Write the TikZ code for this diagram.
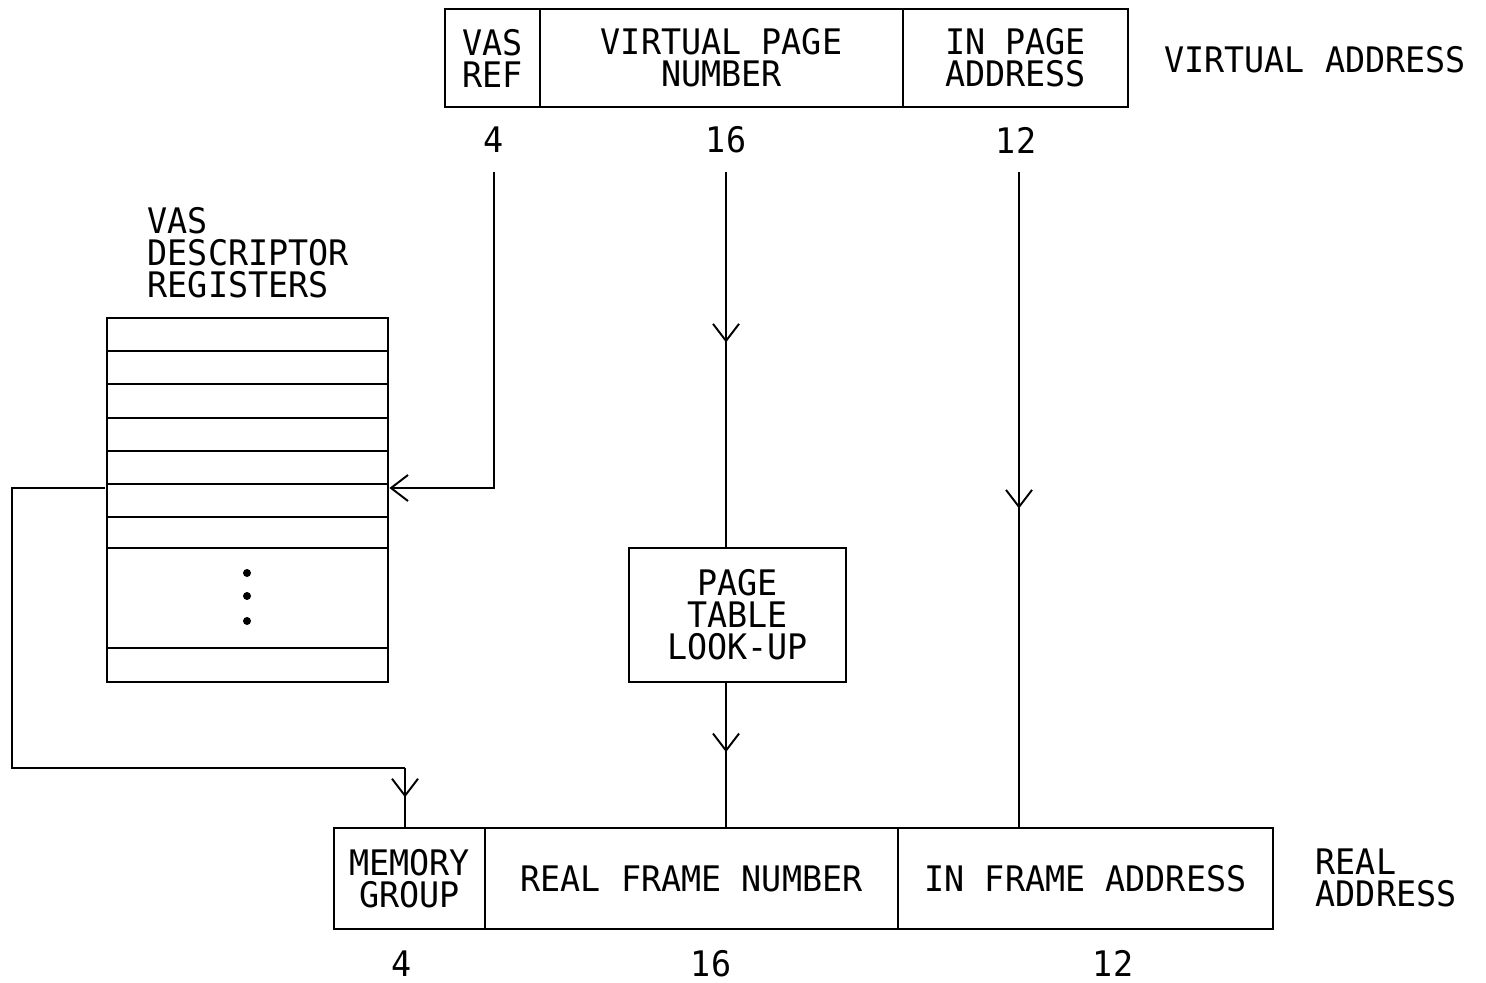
\documentclass[tikz,border=0pt]{standalone}
\usepackage{fontspec}
\newfontfamily\plotfont[FakeStretch=0.95]{DejaVu Sans Mono}
\newcommand{\plottext}{\plotfont\fontsize{10pt}{9.1pt}\selectfont}
\usetikzlibrary{arrows.meta,decorations.markings,calc}
\tikzset{
  barb/.tip={Straight Barb[length=1.7mm,width=2.6mm,line width=0.55pt]},
  field/.style={draw, line width=0.75pt, inner sep=0pt, font=\plottext, align=center},
  lbl/.style={inner sep=0pt, font=\plottext, align=left},
  wire/.style={line width=0.55pt},
  midarrow/.style={postaction={decorate}, decoration={markings, mark=at position #1 with {\arrow{barb}}}},
  dotmark/.style={fill=black, circle, inner sep=0pt, minimum size=0.08cm},
}
\begin{document}
\begin{tikzpicture}[x=0.01cm, y=-0.01cm]
\useasboundingbox (0,0) rectangle (1486,982);
% virtual address
\node[field, minimum width=0.95cm, minimum height=0.98cm] (vasref) at (492.5,58) {VAS\\REF};
\node[field, minimum width=3.63cm, minimum height=0.98cm] (vpn) at (721.5,58) {VIRTUAL PAGE\\NUMBER};
\node[field, minimum width=2.25cm, minimum height=0.98cm] (ipa) at (1015.5,58) {IN PAGE\\ADDRESS};
\node[lbl] (va) at (1315,60) {VIRTUAL ADDRESS};
\node[lbl] (n4a) at (494,140) {4};
\node[lbl] (n16a) at (726,140) {16};
\node[lbl] (n12a) at (1016,140) {12};
% registers
\node[lbl, anchor=north west] (reglbl) at (147,207) {VAS\\DESCRIPTOR\\REGISTERS};
\node[field, minimum width=2.81cm, minimum height=0.33cm] (r1) at (247.5,334.5) {};
\node[field, minimum width=2.81cm, minimum height=0.33cm] (r2) at (247.5,367.5) {};
\node[field, minimum width=2.81cm, minimum height=0.34cm] (r3) at (247.5,401) {};
\node[field, minimum width=2.81cm, minimum height=0.33cm] (r4) at (247.5,434.5) {};
\node[field, minimum width=2.81cm, minimum height=0.33cm] (r5) at (247.5,467.5) {};
\node[field, minimum width=2.81cm, minimum height=0.33cm] (r6) at (247.5,500.5) {};
\node[field, minimum width=2.81cm, minimum height=0.31cm] (r7) at (247.5,532.5) {};
\node[field, minimum width=2.81cm, minimum height=1.00cm] (rdots) at (247.5,598) {};
\node[field, minimum width=2.81cm, minimum height=0.34cm] (r8) at (247.5,665) {};
\node[dotmark] (d1) at (247,573) {};
\node[dotmark] (d2) at (247,596) {};
\node[dotmark] (d3) at (247,621) {};
% page table
\node[field, minimum width=2.17cm, minimum height=1.34cm] (pt) at (737.5,615) {PAGE\\TABLE\\LOOK-UP};
% real address
\node[field, minimum width=1.51cm, minimum height=1.01cm] (mg) at (409.5,878.5) {MEMORY\\GROUP};
\node[field, minimum width=4.13cm, minimum height=1.01cm] (rfn) at (691.5,878.5) {REAL FRAME NUMBER};
\node[field, minimum width=3.75cm, minimum height=1.01cm] (ifa) at (1085.5,878.5) {IN FRAME ADDRESS};
\node[lbl, anchor=west] (ra) at (1315,878) {REAL\\ADDRESS};
\node[lbl, anchor=base] (n4b) at (402,976) {4};
\node[lbl, anchor=base] (n16b) at (711,976) {16};
\node[lbl, anchor=base] (n12b) at (1113,976) {12};
% connectors
\coordinate (c1) at (494,172);
\coordinate (c2) at (494,488);
\coordinate (c3) at (105,488);
\coordinate (c4) at (12,488);
\coordinate (c5) at (12,768);
\coordinate (c6) at (405,768);
\coordinate (t16) at (726,172);
\coordinate (t12) at (1019,172);
\draw[wire, -barb] (c1) -- (c2) -- (c2 -| r6.east);
\draw[wire] (c3) -- (c4) -- (c5) -- (c6);
\draw[wire, midarrow=0.5] (c6) -- (c6 |- mg.north);
\draw[wire, midarrow=0.455] (t16) -- (t16 |- pt.north);
\draw[wire, midarrow=0.48] (t16 |- pt.south) -- (t16 |- rfn.north);
\draw[wire, midarrow=0.514] (t12) -- (t12 |- ifa.north);
\end{tikzpicture}
\end{document}
